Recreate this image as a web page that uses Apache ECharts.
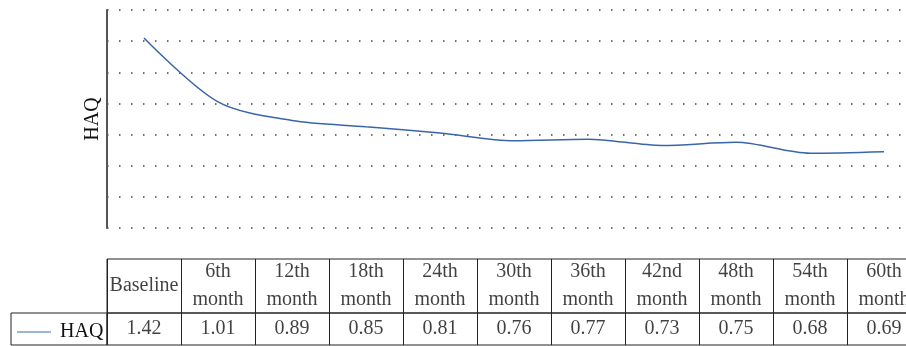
<!DOCTYPE html>
<html>
<head>
<meta charset="utf-8">
<script src="https://cdn.jsdelivr.net/npm/echarts@6/dist/echarts.min.js"></script>
<style>html,body{margin:0;padding:0;background:#fff}#c{width:906px;height:346px}</style>
</head>
<body>
<div id="c"></div>
<script>
var categories = ['Baseline','6th month','12th month','18th month','24th month','30th month','36th month','42nd month','48th month','54th month','60th month'];
var headerLabels = ['Baseline','6th\nmonth','12th\nmonth','18th\nmonth','24th\nmonth','30th\nmonth','36th\nmonth','42nd\nmonth','48th\nmonth','54th\nmonth','60th\nmonth'];
var haqValues = [1.42, 1.01, 0.89, 0.85, 0.81, 0.76, 0.77, 0.73, 0.75, 0.68, 0.69];
var seriesName = 'HAQ';
var yMin = 0.2, yMax = 1.6, yInterval = 0.2;

var FONT = 'Liberation Serif';
var chart = echarts.init(document.getElementById('c'), null, {renderer: 'canvas'});

function tableAxis(gi) {
  return {
    type: 'category', gridIndex: gi, data: categories, boundaryGap: true,
    axisLine: {show: false}, axisTick: {show: false, interval: 0}, axisLabel: {show: false, interval: 0},
    splitLine: {show: true, interval: 0, lineStyle: {color: '#222', width: 1, type: 'solid'}}
  };
}
function tableYAxis(gi) {
  return {type: 'category', gridIndex: gi, data: ['r'], show: false};
}
var labelStyle = {fontFamily: FONT, fontSize: 20, color: '#111', lineHeight: 28};

chart.setOption({
  animation: false,
  grid: [
    {left: 107, top: 10, width: 814, height: 218, outerBoundsMode: 'none', containLabel: false},
    {left: 107, top: 259, width: 814, height: 54, outerBoundsMode: 'none', containLabel: false, show: true, borderColor: '#222', borderWidth: 1, backgroundColor: 'transparent'},
    {left: 107, top: 313, width: 814, height: 32, outerBoundsMode: 'none', containLabel: false, show: true, borderColor: '#222', borderWidth: 1, backgroundColor: 'transparent'}
  ],
  legend: {
    data: [{name: seriesName, icon: 'path://M0,0 L34,0 L34,1.5 L0,1.5 Z'}],
    left: 12, top: 317, itemWidth: 34, itemHeight: 2, itemGap: 0,
    itemStyle: {color: '#7a9cc8'},
    textStyle: {fontFamily: FONT, fontSize: 20, color: '#111', padding: [0, 0, 0, 4]},
    selectedMode: false
  },
  xAxis: [
    {type: 'category', gridIndex: 0, data: categories, boundaryGap: true,
     axisLine: {show: false}, axisTick: {show: false}, axisLabel: {show: false}, splitLine: {show: false}},
    tableAxis(1), tableAxis(2)
  ],
  yAxis: [
    {type: 'value', gridIndex: 0, min: yMin, max: yMax, interval: yInterval,
     name: 'HAQ', nameLocation: 'middle', nameGap: 4, nameRotate: 90,
     nameTextStyle: {fontFamily: FONT, fontSize: 20, color: '#111'},
     axisLine: {show: true, lineStyle: {color: '#555', width: 2}},
     axisTick: {show: false}, axisLabel: {show: false},
     splitLine: {show: true, lineStyle: {color: '#444', width: 1.5, type: [1.5, 10.5]}}},
    tableYAxis(1), tableYAxis(2)
  ],
  graphic: [
    {type: 'rect', shape: {x: 11, y: 313, width: 96, height: 32}, style: {fill: 'none', stroke: '#222', lineWidth: 1}, silent: true}
  ],
  series: [
    {name: seriesName, type: 'line', xAxisIndex: 0, yAxisIndex: 0, data: haqValues, smooth: 0.3,
     symbol: 'none', lineStyle: {color: '#3a66a8', width: 1.5}, itemStyle: {color: '#7a9cc8'}},
    {type: 'scatter', xAxisIndex: 1, yAxisIndex: 1, silent: true, symbolSize: 1,
     itemStyle: {color: 'rgba(0,0,0,0)'},
     data: categories.map(function (c) { return [c, 'r']; }),
     label: Object.assign({show: true, position: 'inside', formatter: function (p) { return headerLabels[p.dataIndex]; }}, labelStyle)},
    {type: 'scatter', xAxisIndex: 2, yAxisIndex: 2, silent: true, symbolSize: 1,
     itemStyle: {color: 'rgba(0,0,0,0)'},
     data: categories.map(function (c) { return [c, 'r']; }),
     label: Object.assign({show: true, position: 'inside', formatter: function (p) { return haqValues[p.dataIndex].toFixed(2); }}, labelStyle)}
  ]
});
</script>
</body>
</html>
